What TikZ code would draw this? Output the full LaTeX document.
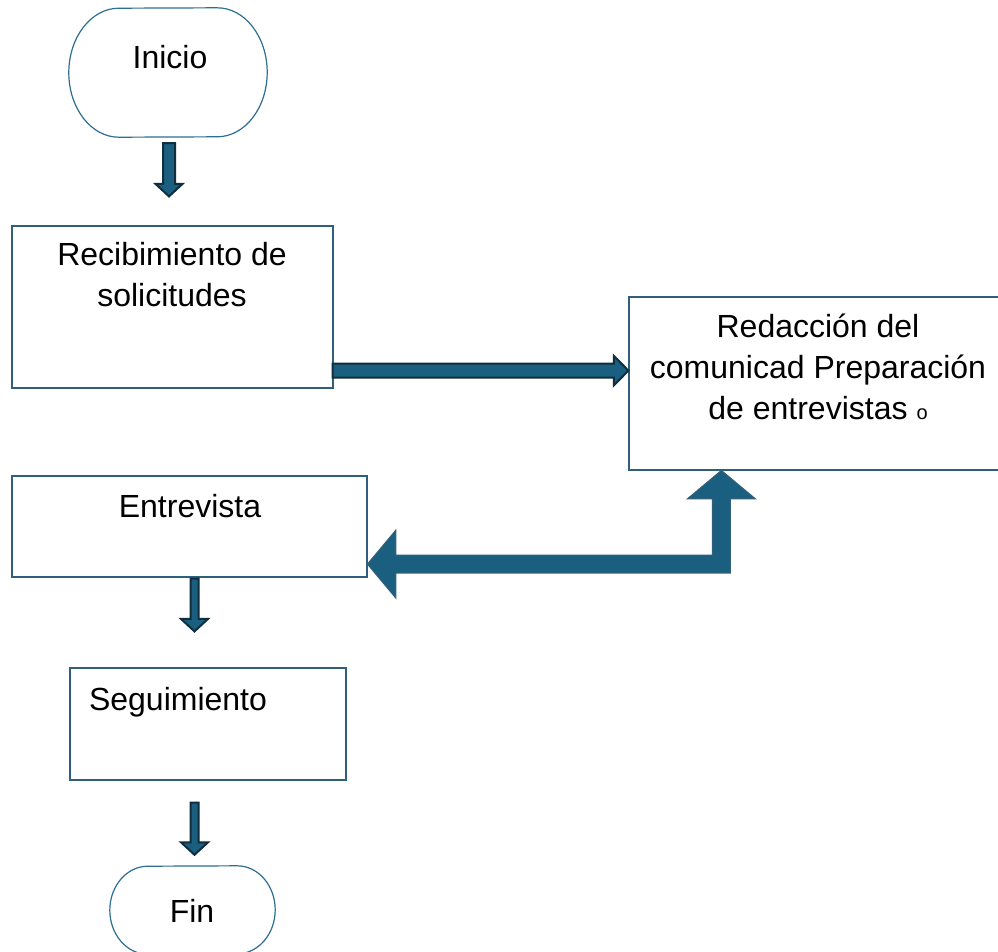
\documentclass[tikz,border=0pt]{standalone}
\usepackage{fontspec}
\setmainfont{Liberation Sans}
\usetikzlibrary{calc}
\definecolor{flowfill}{HTML}{1A5F80}
\definecolor{flowedge}{HTML}{0F2E3E}
\definecolor{flowline}{HTML}{2F5F7A}
\definecolor{termline}{HTML}{2E6E90}
\newcommand{\flowfont}{\fontsize{32}{41}\selectfont}
% block arrow going down: #1 start, #2 tip, #3 half shaft
\newcommand{\downblock}[3]{%
  \draw[blockarrow] ($(#1)+(-#3,0)$) -- ($(#2)+(-#3,-12.5)$) -- ($(#2)+(-13.5,-12.5)$) -- (#2)
    -- ($(#2)+(13.5,-12.5)$) -- ($(#2)+(#3,-12.5)$) -- ($(#1)+(#3,0)$) -- cycle;}
% block arrow going right: #1 start, #2 tip, #3 half shaft
\newcommand{\rightblock}[3]{%
  \draw[blockarrow] ($(#1)+(0,-#3)$) -- ($(#2)+(-14.5,-#3)$) -- ($(#2)+(-14.5,-14.7)$) -- (#2)
    -- ($(#2)+(-14.5,14.7)$) -- ($(#2)+(-14.5,#3)$) -- ($(#1)+(0,#3)$) -- cycle;}
% terminator outline round node #1, corner radii #2 and #3
\newcommand{\termedge}[3]{%
  \draw[termline] ($(#1.north east)+(-#2,0)$) arc[start angle=-90,end angle=0,x radius=#2,y radius=#3]
    arc[start angle=0,end angle=90,x radius=#2,y radius=#3] -- ($(#1.south west)+(#2,0)$)
    arc[start angle=90,end angle=180,x radius=#2,y radius=#3]
    arc[start angle=180,end angle=270,x radius=#2,y radius=#3] -- cycle;}

\begin{document}
\begin{tikzpicture}[x=1pt,y=-1pt,font=\flowfont,
  procbox/.style={draw=flowline,line width=1.2pt,inner sep=0pt},
  termbox/.style={inner sep=0pt},
  termline/.style={draw=termline,line width=1.2pt},
  txt/.style={inner sep=0pt,align=center},
  blockarrow/.style={fill=flowfill,draw=flowedge,line width=2pt,line join=miter},
  bigarrow/.style={fill=flowfill,draw=flowline,line width=1.3pt,line join=miter}]
\useasboundingbox[fill=white] (0,0) rectangle (998,951);
% shapes
\node[termbox,minimum width=198,minimum height=129] (inicio) at (168,72.5) {};
\node[procbox,minimum width=321,minimum height=162] (recib) at (172.5,307) {};
\node[procbox,minimum width=371,minimum height=173] (redac) at (814.5,383.5) {};
\node[procbox,minimum width=355,minimum height=101] (entrev) at (189.5,526.5) {};
\node[procbox,minimum width=276,minimum height=112] (segui) at (208,724) {};
\node[termbox,minimum width=165,minimum height=88] (fin) at (192.5,910) {};
\termedge{inicio}{50}{64.5}
\termedge{fin}{38}{44}
% texts
\node[txt] (inicio-txt) at (170,57) {Inicio};
\node[txt] (recib-txt) at (172,274.5) {Recibimiento de\\solicitudes};
\node[txt] (redac-txt) at (818,367) {Redacción del\\comunicad Preparación\\de entrevistas {\fontsize{20}{20}\selectfont o}};
\node[txt] (entrev-txt) at (190,506) {Entrevista};
\node[txt] (segui-txt) at (178,702) {Seguimiento};
\node[txt] (fin-txt) at (192,910.5) {Fin};
% arrows
\coordinate (a1s) at ($(inicio.south)+(1,6)$);
\coordinate (a1t) at ($(a1s |- recib.north)+(0,-29)$);
\downblock{a1s}{a1t}{6}
\coordinate (a2s) at ($(recib.south east)+(-1,-18)$);
\coordinate (a2t) at (redac.west |- a2s);
\rightblock{a2s}{a2t}{7}
\coordinate (a4s) at ($(entrev.south)+(5,1)$);
\coordinate (a4t) at ($(a4s |- segui.north)+(0,-36)$);
\downblock{a4s}{a4t}{4}
\coordinate (a5s) at ($(segui.south)+(-13.5,22)$);
\coordinate (a5t) at ($(a5s |- fin.north)+(0,-11)$);
\downblock{a5s}{a5t}{4}
% two-way arrow between entrevista and redaccion
\coordinate (lt) at ($(entrev.south east)+(0,-13.5)$);
\coordinate (ut) at ($(redac.south west)+(93,0)$);
\draw[bigarrow] (lt) -- ($(lt)+(28,-33.5)$) -- ($(lt)+(28,-8.85)$) -- ($(lt -| ut)+(-8.85,-8.85)$)
  -- ($(ut)+(-8.85,28)$) -- ($(ut)+(-33.5,28)$) -- (ut) -- ($(ut)+(33.5,28)$) -- ($(ut)+(8.85,28)$)
  -- ($(lt -| ut)+(8.85,8.85)$) -- ($(lt)+(28,8.85)$) -- ($(lt)+(28,33.5)$) -- cycle;
\end{tikzpicture}
\end{document}
